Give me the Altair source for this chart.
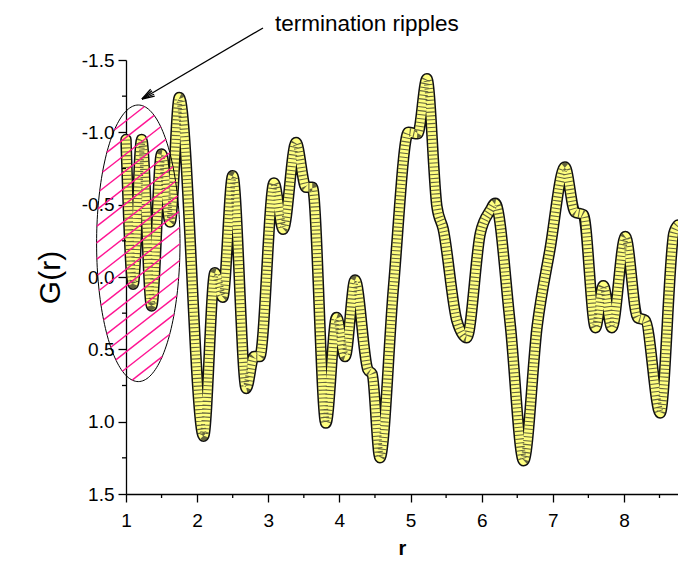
import altair as alt
import numpy as np
import pandas as pd

# ---- data ----
r_vals = [1.00, 1.10, 1.22, 1.36, 1.50, 1.62, 1.75, 2.09, 2.25, 2.36, 2.50, 2.69, 2.80, 2.88,
          3.08, 3.21, 3.39, 3.53, 3.62, 3.81, 3.96, 4.08, 4.22, 4.40, 4.46, 4.57, 4.76, 4.97,
          5.10, 5.23, 5.37, 5.46, 5.65, 5.79, 5.98, 6.12, 6.19, 6.40, 6.59, 6.78, 6.96, 7.17,
          7.31, 7.43, 7.60, 7.71, 7.83, 8.02, 8.19, 8.30, 8.51, 8.70, 8.76]
g_vals = [-0.95, 0.05, -0.95, 0.20, -0.85, -0.38, -1.24, 1.10, -0.03, 0.14, -0.70, 0.77, 0.55, 0.55,
          -0.65, -0.33, -0.93, -0.62, -0.62, 1.01, 0.28, 0.55, 0.02, 0.64, 0.67, 1.25, 0.07, -1.00,
          -0.99, -1.37, -0.49, -0.33, 0.30, 0.42, -0.30, -0.46, -0.51, 0.32, 1.27, 0.34, -0.19, -0.76,
          -0.45, -0.43, 0.35, 0.06, 0.35, -0.28, 0.28, 0.30, 0.94, -0.30, -0.36]
x_ticks = [1, 2, 3, 4, 5, 6, 7, 8]
x_minor = [1.5, 2.5, 3.5, 4.5, 5.5, 6.5, 7.5, 8.5]
y_ticks = [-1.5, -1.0, -0.5, 0.0, 0.5, 1.0, 1.5]
y_minor = [-1.25, -0.75, -0.25, 0.25, 0.75, 1.25]
annotation_text = "termination ripples"

W, H = 552, 434
XD = [1.0, 8.76]
YD = [-1.5, 1.5]
FONT = "Liberation Sans"


def px2x(px):
    return XD[0] + px / W * (XD[1] - XD[0])


def py2y(py):
    return YD[0] + py / H * (YD[1] - YD[0])


xscale = alt.Scale(domain=XD, nice=False, zero=False)
yscale = alt.Scale(domain=YD, reverse=True, nice=False, zero=False)
xaxis = alt.Axis(values=x_ticks, tickSize=8, tickWidth=1.3, domainWidth=1.3,
                 domainColor="black", tickColor="black", labelColor="black",
                 labelFont=FONT, labelFontSize=19, labelPadding=9, grid=False,
                 title="r", titleFont=FONT, titleFontSize=20, titleFontWeight="bold",
                 titleColor="black", titlePadding=8, labelFlush=False)
yaxis = alt.Axis(values=y_ticks, tickSize=8, tickWidth=1.3, domainWidth=1.3,
                 domainColor="black", tickColor="black", labelColor="black",
                 labelFont=FONT, labelFontSize=19, labelPadding=4, grid=False,
                 labelExpr="replace(format(datum.value, '.1f'), '\u2212', '-')",
                 title="G(r)", titleFont=FONT, titleFontSize=30, titleFontWeight="normal",
                 titleColor="black", titlePadding=16, labelFlush=False)


def X(field="r"):
    return alt.X(f"{field}:Q", scale=xscale, axis=xaxis)


def Y(field="G"):
    return alt.Y(f"{field}:Q", scale=yscale, axis=yaxis)


curve = pd.DataFrame({"r": r_vals, "G": g_vals})
base = alt.Chart(curve).encode(x=X(), y=Y())
outline = base.mark_line(color="#111111", strokeWidth=11.5, interpolate="monotone",
                         strokeCap="round", strokeJoin="round")
fill = base.mark_line(color="#FFFF80", strokeWidth=8.5, interpolate="monotone",
                      strokeCap="round", strokeJoin="round")
slats = base.mark_line(color="#222222", strokeWidth=8.5, interpolate="monotone",
                       strokeDash=[1.1, 2.8], strokeCap="butt", opacity=0.7)

# minor ticks
ymin_df = pd.DataFrame({"G": y_minor})
ymin = alt.Chart(ymin_df).mark_rule(color="black", strokeWidth=1.3).encode(
    y=Y(), x=alt.value(-4), x2=alt.value(0))
xmin_df = pd.DataFrame({"r": x_minor})
xmin = alt.Chart(xmin_df).mark_rule(color="black", strokeWidth=1.3).encode(
    x=X(), y=alt.value(H), y2=alt.value(H + 4))

# ellipse annotation (page px -> plot px -> data)
cx, cy, ea, eb = 138.3 - 126, 243.3 - 60, 41.7, 138.3
t = np.linspace(0, 2 * np.pi, 181)
ell = pd.DataFrame({"r": px2x(cx + ea * np.cos(t)), "G": py2y(cy + eb * np.sin(t)),
                    "o": np.arange(len(t))})
ellipse = alt.Chart(ell).mark_line(color="black", strokeWidth=1).encode(
    x=X(), y=Y(), order="o:Q")

th = np.deg2rad(38)
d = np.array([np.cos(th), -np.sin(th)])
n = np.array([np.sin(th), np.cos(th)])
rows = []
for off in np.arange(-117, 118, 13):
    p0 = np.array([cx, cy]) + off * n
    A = (d[0] / ea) ** 2 + (d[1] / eb) ** 2
    B = 2 * ((p0[0] - cx) * d[0] / ea ** 2 + (p0[1] - cy) * d[1] / eb ** 2)
    C = ((p0[0] - cx) / ea) ** 2 + ((p0[1] - cy) / eb) ** 2 - 1
    disc = B * B - 4 * A * C
    if disc <= 0:
        continue
    u1 = (-B - np.sqrt(disc)) / (2 * A)
    u2 = (-B + np.sqrt(disc)) / (2 * A)
    a1 = p0 + u1 * d
    a2 = p0 + u2 * d
    rows.append({"r": px2x(a1[0]), "G": py2y(a1[1]), "r2": px2x(a2[0]), "G2": py2y(a2[1])})
hatch_df = pd.DataFrame(rows)
hatch = alt.Chart(hatch_df).mark_rule(color="#FF1493", strokeWidth=1.4).encode(
    x=X(), y=Y(), x2="r2:Q", y2="G2:Q")

# arrow
sx, sy, tx, ty = 263 - 126, 28 - 60, 142 - 126, 99 - 60
v = np.array([sx - tx, sy - ty], dtype=float)
v /= np.linalg.norm(v)
wings = []
for ang in (18, -18, 9, -9):
    a = np.deg2rad(ang)
    w = np.array([v[0] * np.cos(a) - v[1] * np.sin(a), v[0] * np.sin(a) + v[1] * np.cos(a)])
    e = np.array([tx, ty]) + 13 * w
    wings.append({"r": px2x(tx), "G": py2y(ty), "r2": px2x(e[0]), "G2": py2y(e[1])})
wings.append({"r": px2x(sx), "G": py2y(sy), "r2": px2x(tx), "G2": py2y(ty)})
arrow = alt.Chart(pd.DataFrame(wings)).mark_rule(color="black", strokeWidth=1.3).encode(
    x=X(), y=Y(), x2="r2:Q", y2="G2:Q")

label = alt.Chart(pd.DataFrame({"t": [annotation_text]})).mark_text(
    align="left", baseline="alphabetic", font=FONT, fontSize=22.5, color="black").encode(
    x=alt.value(275 - 126), y=alt.value(31 - 60), text="t:N")

chart = alt.layer(outline, fill, slats, ymin, xmin, ellipse, hatch, arrow, label).properties(
    width=W, height=H,
    autosize=alt.AutoSizeParams(type="none"),
    padding={"left": 126, "top": 60, "right": 0, "bottom": 68},
    background="white",
).configure_view(stroke=None)

chart.save("out.html", embed_options={"renderer": "svg", "actions": False})
